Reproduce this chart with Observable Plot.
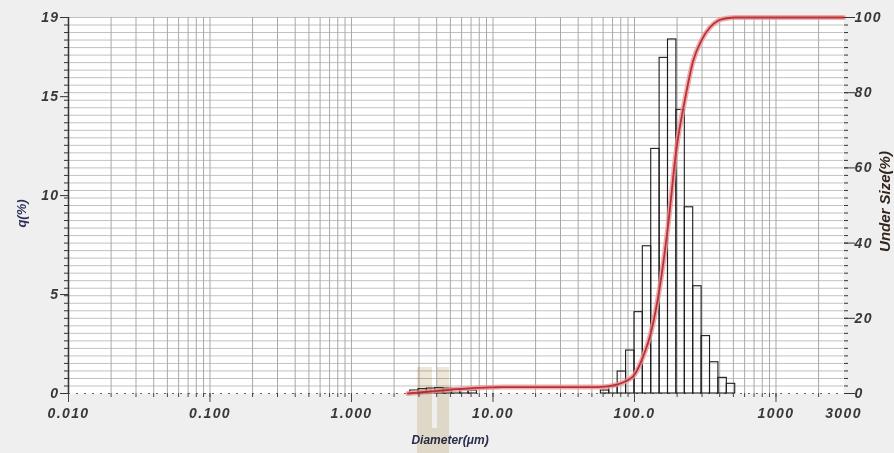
<!DOCTYPE html>
<html><head><meta charset="utf-8">
<script src="https://cdn.jsdelivr.net/npm/d3@7"></script>
<script src="https://cdn.jsdelivr.net/npm/@observablehq/plot@0.6"></script>
<style>
html,body{margin:0;padding:0;background:#efefef;}
#chart{position:relative;width:894px;height:453px;overflow:hidden;}
.tan{position:absolute;background:#eee6d6;mix-blend-mode:multiply;}
.num{letter-spacing:1.4px;}
</style></head><body><div id="chart"></div>
<script>
// Histogram bins (diameter, µm) and frequency q (%)
const binLow  = [2.599, 2.976, 3.409, 3.905, 4.472, 5.122, 5.867, 6.720,
                 57.87, 66.35, 76.07, 87.22, 100.0, 114.5, 131.3, 150.5, 172.5, 197.8, 226.8, 260.0, 298.1, 341.8, 391.9, 449.3];
const binHigh = [2.976, 3.409, 3.905, 4.472, 5.122, 5.867, 6.720, 7.697,
                 66.35, 76.07, 87.22, 100.0, 114.5, 131.3, 150.5, 172.5, 197.8, 226.8, 260.0, 298.1, 341.8, 391.9, 449.3, 515.2];
const qPercent = [0.15, 0.22, 0.25, 0.27, 0.25, 0.22, 0.18, 0.14,
                  0.15, 0.35, 1.11, 2.17, 4.11, 7.44, 12.36, 16.96, 17.89, 14.33, 9.41, 5.42, 2.90, 1.58, 0.79, 0.49];

// Cumulative undersize curve (diameter µm, %)
const curveDiameter = [2.5, 2.976, 3.409, 3.905, 4.472, 5.122, 5.867, 6.720, 7.697, 8.816, 10.10, 11.56, 50.47, 57.87, 66.35, 76.07, 87.22, 100.0, 114.5, 131.3, 150.5, 172.5, 197.8, 226.8, 260.0, 298.1, 341.8, 391.9, 449.3, 515.2, 3000];
const underSize     = [0.0, 0.25, 0.45, 0.65, 0.85, 1.05, 1.20, 1.35, 1.48, 1.58, 1.65, 1.70, 1.70, 1.75, 1.95, 2.4, 3.3, 5.0, 9.6, 16.5, 28.0, 44.5, 65.0, 78.0, 88.5, 94.0, 97.4, 99.2, 99.8, 100, 100];

// Axis ticks and labels
const xTickValues = [0.01, 0.1, 1, 10, 100, 1000, 3000];
const xTickLabels = ["0.010", "0.100", "1.000", "10.00", "100.0", "1000", "3000"];
const qTicks = [0, 5, 10, 15, 19];
const underTicks = [0, 20, 40, 60, 80, 100];
const Q_MAX = 19;

const toQ = p => p * Q_MAX / 100;
const bars = binLow.map((lo, i) => ({lo, hi: binHigh[i], q: qPercent[i]}));
const curve = curveDiameter.map((d, i) => ({d, u: underSize[i]}));

const logMinor = d3.range(-2, 4).flatMap(k => d3.range(1, 10).map(m => +(m * 10 ** k).toPrecision(6))).filter(v => v <= 3000);
const decades = [0.01, 0.1, 1, 10, 100, 1000];
const vGrid = logMinor.filter(v => v > 0.01 && v < 3000);
const pctSteps = d3.range(0, 101, 2).map(toQ);
const hGrid = d3.range(2, 101, 2).map(toQ);

const numFont = {fontFamily: "Liberation Sans, Arial, sans-serif", fontSize: 14, fontWeight: "bold", fontStyle: "italic", fill: "#383838", className: "num"};
const titleFont = {fontFamily: "Liberation Sans, Arial, sans-serif", fontWeight: "bold", fontStyle: "italic", textAnchor: "middle"};

const chart = Plot.plot({
  width: 894, height: 453,
  marginLeft: 68, marginRight: 51, marginTop: 17, marginBottom: 60,
  x: {type: "log", domain: [0.01, 3000], label: null},
  y: {domain: [0, Q_MAX], label: null},
  style: {background: "transparent", fontFamily: "Liberation Sans, Arial, sans-serif"},
  marks: [
    Plot.frame({fill: "white", stroke: null}),
    Plot.gridY(hGrid, {stroke: "#c2c2c2", strokeOpacity: 1}),
    Plot.gridX(vGrid, {stroke: "#a9a9a9", strokeOpacity: 1}),
    Plot.ruleY([0], {stroke: "#666", strokeDasharray: "2,6"}),
    Plot.ruleX([0.01], {stroke: "#333", strokeWidth: 1.5}),
    Plot.rectY(bars, {x1: "lo", x2: "hi", y: "q", fill: "none", stroke: "#1c1c1c", strokeWidth: 1.1}),
    Plot.line(curve, {x: "d", y: d => toQ(d.u), stroke: "#ec9696", strokeWidth: 5, strokeOpacity: 0.8, curve: "monotone-x"}),
    Plot.line(curve, {x: "d", y: d => toQ(d.u), stroke: "#b8323a", strokeWidth: 1.8, curve: "monotone-x"}),
    // bottom axis
    Plot.axisX(logMinor.filter(v => v < 3000), {tickSize: 4, tickFormat: () => "", stroke: "#444", label: null}),
    Plot.axisX(decades, {tickSize: 9, tickFormat: () => "", stroke: "#444", label: null}),
    Plot.text(xTickValues, {x: d => d, text: d => xTickLabels[xTickValues.indexOf(d)], frameAnchor: "bottom", dy: 15, lineAnchor: "top", ...numFont}),
    // left axis
    Plot.axisY(pctSteps, {anchor: "left", tickSize: 4, tickFormat: () => "", stroke: "#333", label: null}),
    Plot.axisY(qTicks, {anchor: "left", tickSize: 8, tickPadding: 1, tickFormat: d => String(d), stroke: "#333", label: null, ...numFont}),
    // right axis
    Plot.axisY(pctSteps, {anchor: "right", tickSize: 4, tickFormat: () => "", stroke: "#333", label: null}),
    Plot.axisY(underTicks.map(toQ), {anchor: "right", tickSize: 11, tickPadding: 0, tickFormat: d => String(Math.round(d * 100 / Q_MAX)), stroke: "#333", label: null, ...numFont}),
    // titles
    Plot.text(["q(%)"], {text: d => d, frameAnchor: "left", dx: -47, dy: 8, rotate: -90, fontSize: 13, fill: "#2b3058", ...titleFont}),
    Plot.text(["Under Size(%)"], {text: d => d, frameAnchor: "right", dx: 42, dy: -4, rotate: -90, fontSize: 15, fill: "#33261e", ...titleFont}),
    Plot.text(["Diameter(μm)"], {text: d => d, frameAnchor: "bottom", dx: -6, dy: 50, fontSize: 12, fill: "#2b2f4a", ...titleFont})
  ]
});
const host = document.getElementById("chart");
host.appendChild(chart);
for (const [l, t, w, h] of [[417, 367, 15, 86], [437, 367, 11.5, 86], [432, 428, 5, 25]]) {
  const div = document.createElement("div");
  div.className = "tan";
  Object.assign(div.style, {left: l + "px", top: t + "px", width: w + "px", height: h + "px"});
  host.appendChild(div);
}
</script></body></html>
